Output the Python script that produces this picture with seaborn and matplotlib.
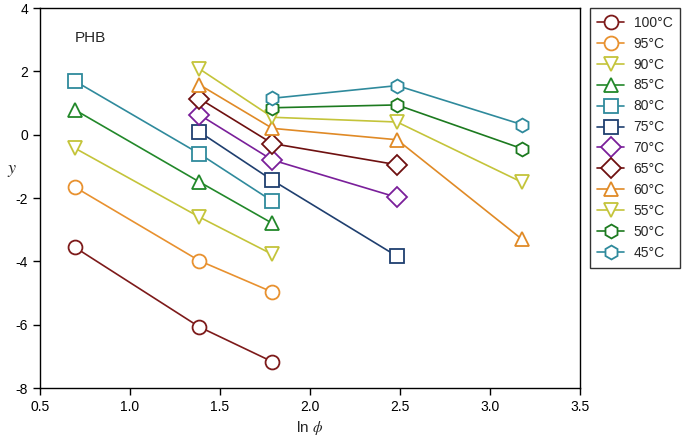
import numpy as np
import pandas as pd
import matplotlib
matplotlib.use("Agg")
import matplotlib.pyplot as plt
import seaborn as sns

sns.set_theme(style="white")
plt.rcParams["font.family"] = ["Liberation Sans", "DejaVu Sans"]
plt.rcParams["mathtext.fontset"] = "stix"

# ln(phi) for heating rates 2, 4, 6, 12, 24
LN_PHI = [0.693, 1.386, 1.792, 2.485, 3.178]

temps = ["100°C", "95°C", "90°C", "85°C", "80°C", "75°C",
         "70°C", "65°C", "60°C", "55°C", "50°C", "45°C"]

# indices into LN_PHI, and y values for each temperature
x_idx = {
    "100°C": [0, 1, 2],
    "95°C": [0, 1, 2],
    "90°C": [0, 1, 2],
    "85°C": [0, 1, 2],
    "80°C": [0, 1, 2],
    "75°C": [1, 2, 3],
    "70°C": [1, 2, 3],
    "65°C": [1, 2, 3],
    "60°C": [1, 2, 3, 4],
    "55°C": [1, 2, 3, 4],
    "50°C": [2, 3, 4],
    "45°C": [2, 3, 4],
}
y_vals = {
    "100°C": [-3.55, -6.07, -7.17],
    "95°C": [-1.65, -3.98, -4.97],
    "90°C": [-0.42, -2.6, -3.78],
    "85°C": [0.79, -1.49, -2.8],
    "80°C": [1.7, -0.6, -2.1],
    "75°C": [0.09, -1.44, -3.84],
    "70°C": [0.63, -0.8, -1.98],
    "65°C": [1.14, -0.28, -0.95],
    "60°C": [1.58, 0.2, -0.16, -3.3],
    "55°C": [2.08, 0.55, 0.4, -1.5],
    "50°C": [0.85, 0.94, -0.44],
    "45°C": [1.15, 1.55, 0.32],
}

colors = ["#7d1a1a", "#e8912f", "#c4c43a", "#22882a", "#2f8a9c", "#1f3f6f",
          "#7a1f9a", "#6e1010", "#e08a26", "#c4c43a", "#1c7a1f", "#2f8a9c"]
markers = ["o", "o", "v", "^", "s", "s", "D", "D", "^", "v", "h", "h"]

rows = []
for t in temps:
    for i, y in zip(x_idx[t], y_vals[t]):
        rows.append({"ln_phi": LN_PHI[i], "y": y, "T": t})
df = pd.DataFrame(rows)

fig = plt.figure(figsize=(6.87, 4.45), dpi=100)
ax = fig.add_axes([0.058, 0.128, 0.786, 0.854])

sns.lineplot(data=df, x="ln_phi", y="y", hue="T", style="T",
             hue_order=temps, style_order=temps,
             palette=dict(zip(temps, colors)),
             markers=dict(zip(temps, markers)), dashes=False,
             markersize=10, markerfacecolor="white", markeredgewidth=1.3,
             linewidth=1.2, ax=ax, legend=True)

# open markers: edge colour = line colour
for line in ax.get_lines():
    line.set_markeredgecolor(line.get_color())
    line.set_markerfacecolor("white")

handles, labels = ax.get_legend_handles_labels()
for h in handles:
    h.set_markeredgecolor(h.get_color())
    h.set_markerfacecolor("white")
    h.set_markersize(10)
    h.set_markeredgewidth(1.3)
leg = ax.legend(handles, labels, loc="upper left", bbox_to_anchor=(1.0185, 1.0),
                frameon=True, fancybox=False, edgecolor="black", fontsize=10,
                handlelength=1.9, labelspacing=0.5, borderpad=0.55,
                handletextpad=0.7, borderaxespad=0.0)
leg.get_frame().set_linewidth(1.0)

ax.set_xlim(0.5, 3.5)
ax.set_ylim(-8, 4)
ax.set_xticks(np.arange(0.5, 3.51, 0.5))
ax.set_yticks(np.arange(-8, 4.1, 2))
ax.set_xticklabels([f"{v:.1f}" for v in np.arange(0.5, 3.51, 0.5)])
ax.set_yticklabels([f"{v:d}" for v in range(-8, 5, 2)])
ax.tick_params(axis="both", direction="out", length=5, width=1, labelsize=10,
               colors="black", bottom=True, left=True)
for sp in ax.spines.values():
    sp.set_color("black")
    sp.set_linewidth(1.0)

ax.set_xlabel(r"ln $\phi$", fontsize=11)
ax.set_ylabel(r"$y$", fontsize=13, rotation=0)
ax.yaxis.set_label_coords(-0.052, 0.55)
ax.text(0.065, 0.91, "PHB", transform=ax.transAxes, fontsize=11)

fig.savefig("out.png", dpi=100)
